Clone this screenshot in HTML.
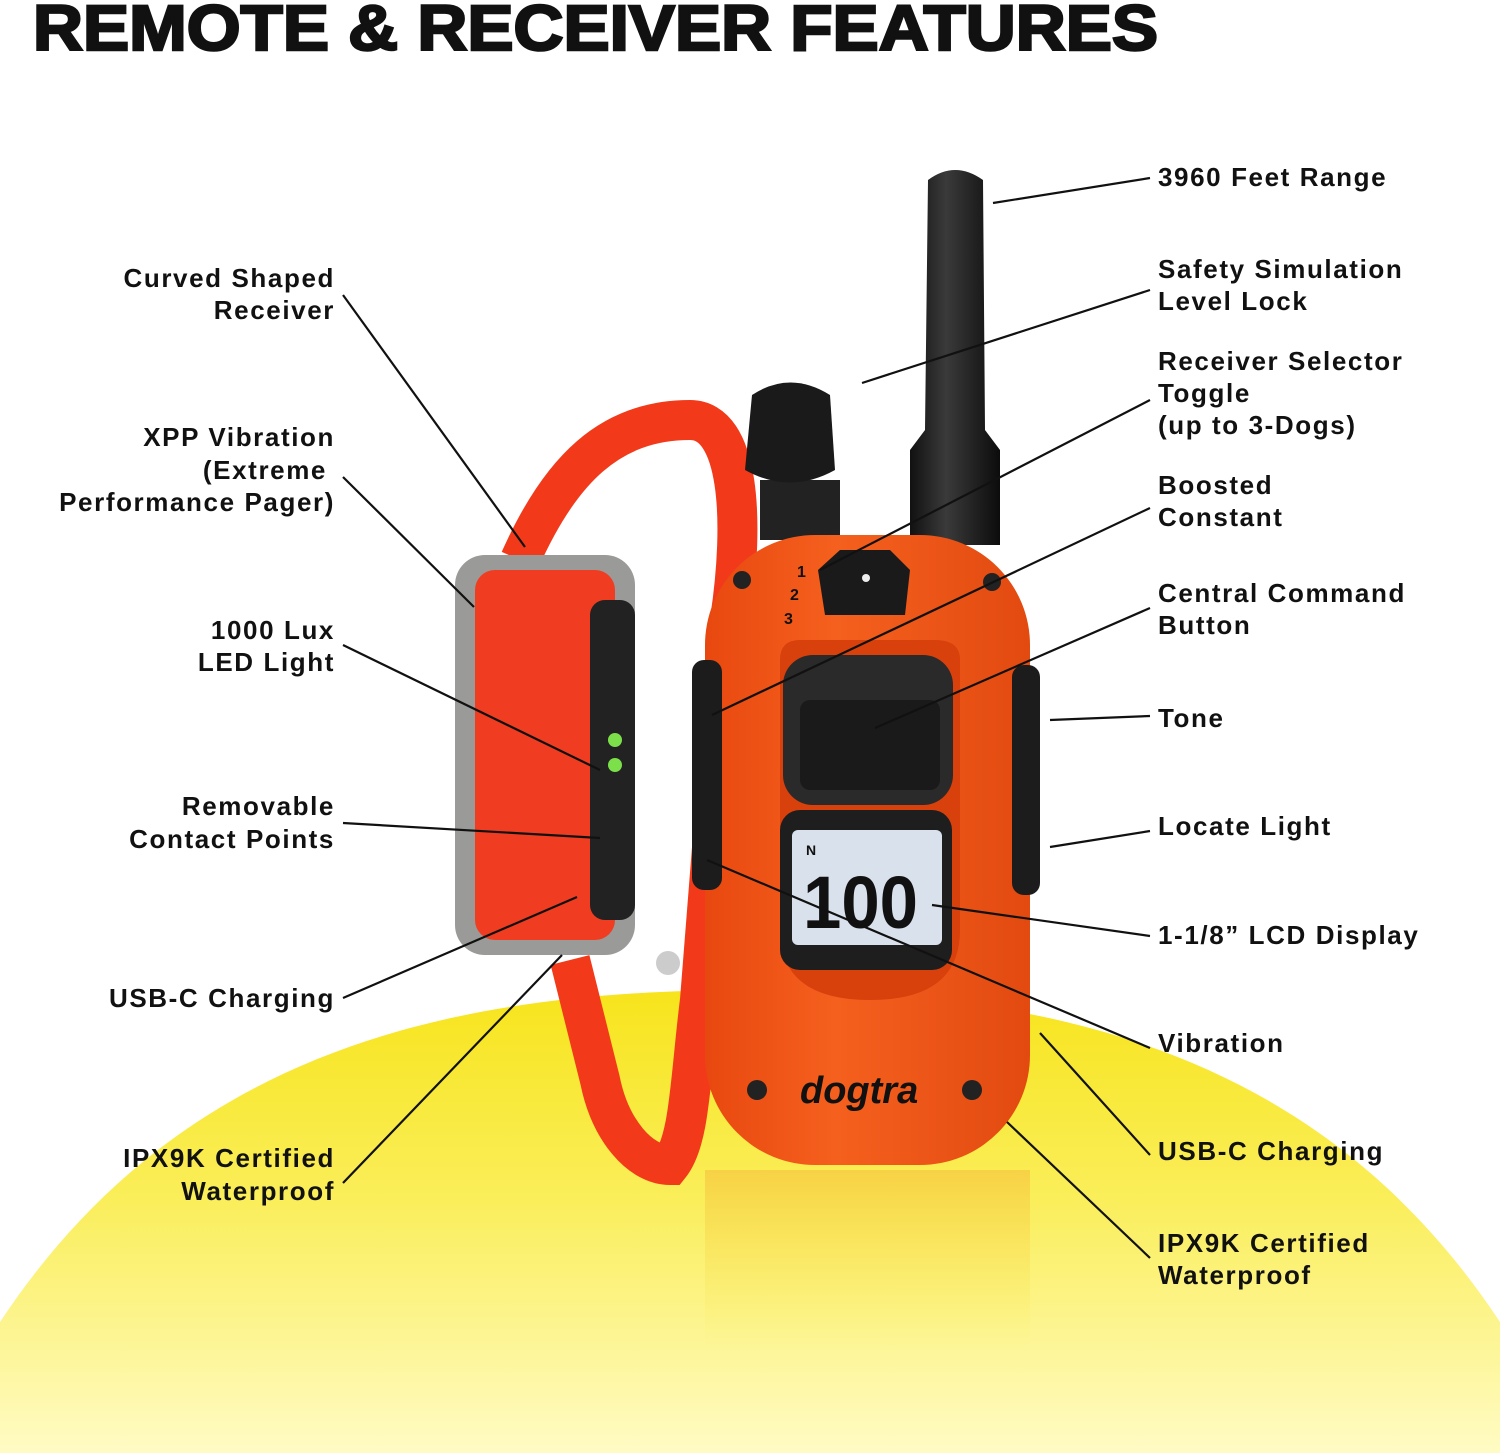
<!DOCTYPE html>
<html><head><meta charset="utf-8"><style>
html,body{margin:0;padding:0;background:#fff;}
svg{display:block}
text{font-family:"Liberation Sans",sans-serif;font-weight:bold;fill:#111;}
</style></head><body>
<svg width="1500" height="1453" viewBox="0 0 1500 1453" xmlns="http://www.w3.org/2000/svg">
<defs>
<linearGradient id="yel" x1="0" y1="0" x2="0" y2="1">
<stop offset="0" stop-color="#f7e41c"/><stop offset="0.45" stop-color="#faee5a"/><stop offset="1" stop-color="#fffbc4"/>
</linearGradient>
<linearGradient id="body" x1="0" y1="0" x2="1" y2="0">
<stop offset="0" stop-color="#e8480f"/><stop offset="0.4" stop-color="#f5601e"/><stop offset="1" stop-color="#e24a10"/>
</linearGradient>
<linearGradient id="ant" x1="0" y1="0" x2="1" y2="0">
<stop offset="0" stop-color="#111"/><stop offset="0.4" stop-color="#3a3a3a"/><stop offset="1" stop-color="#0c0c0c"/>
</linearGradient>
<linearGradient id="refl" x1="0" y1="0" x2="0" y2="1">
<stop offset="0" stop-color="#f6c640" stop-opacity="0.7"/><stop offset="1" stop-color="#faee5a" stop-opacity="0"/>
</linearGradient>
</defs>
<path d="M0,1322 C180,1050 450,990 750,990 C1050,990 1320,1050 1500,1322 L1500,1453 L0,1453 Z" fill="url(#yel)"/>
<path d="M705,1170 L1030,1170 L1030,1350 L705,1350 Z" fill="url(#refl)"/>
<text x="33" y="50" font-size="64" textLength="1125" lengthAdjust="spacingAndGlyphs" stroke="#111" stroke-width="2.5" style="font-weight:900">REMOTE &amp; RECEIVER FEATURES</text>

<!-- collar -->
<path d="M520,560 C560,470 610,420 690,420 C740,420 745,520 730,620 L700,1000 C690,1080 690,1140 670,1165 C640,1165 610,1130 600,1080 L570,960" fill="none" stroke="#f23a1a" stroke-width="40"/>
<rect x="455" y="555" width="180" height="400" rx="30" fill="#9a9a98"/>
<rect x="475" y="570" width="140" height="370" rx="20" fill="#f03c20"/>
<rect x="590" y="600" width="45" height="320" rx="15" fill="#222"/>
<circle cx="615" cy="740" r="7" fill="#7be04a"/><circle cx="615" cy="765" r="7" fill="#7be04a"/>
<circle cx="668" cy="963" r="12" fill="#ccc"/>

<!-- antenna -->
<path d="M928,180 Q955,160 983,180 L985,430 L1000,450 L1000,545 L910,545 L910,450 L925,430 Z" fill="url(#ant)"/>
<!-- knob -->
<rect x="760" y="480" width="80" height="60" fill="#222"/>
<path d="M752,395 Q790,370 830,395 L835,470 Q790,495 745,470 Z" fill="#1a1a1a"/>
<!-- body -->
<rect x="705" y="535" width="325" height="630" rx="110" fill="url(#body)"/>
<rect x="692" y="660" width="30" height="230" rx="12" fill="#1c1c1c"/>
<rect x="1012" y="665" width="28" height="230" rx="12" fill="#1c1c1c"/>
<path d="M780,660 Q780,640 800,640 L935,640 Q960,640 960,660 L960,930 Q960,1000 870,1000 Q780,1000 780,930 Z" fill="#d8400c"/>
<rect x="783" y="655" width="170" height="150" rx="30" fill="#2a2a2a"/>
<rect x="800" y="700" width="140" height="90" rx="10" fill="#1a1a1a"/>
<rect x="780" y="810" width="172" height="160" rx="20" fill="#1e1e1e"/>
<rect x="792" y="830" width="150" height="115" rx="6" fill="#d9e1ec"/>
<text x="803" y="928" font-size="74" fill="#111" textLength="115" lengthAdjust="spacingAndGlyphs">100</text>
<text x="806" y="855" font-size="14">N</text>
<path d="M818,570 L840,550 L890,550 L910,570 L905,615 L825,615 Z" fill="#1a1a1a"/>
<circle cx="866" cy="578" r="4" fill="#eee"/>
<text x="797" y="577" font-size="16">1</text><text x="790" y="600" font-size="16">2</text><text x="784" y="624" font-size="16">3</text>
<circle cx="742" cy="580" r="9" fill="#222"/><circle cx="992" cy="582" r="9" fill="#222"/>
<circle cx="757" cy="1090" r="10" fill="#222"/><circle cx="972" cy="1090" r="10" fill="#222"/>
<text x="800" y="1103" font-size="38" style="font-style:italic">dogtra</text>

<g stroke="#111" stroke-width="2.2" fill="none">
<line x1="993" y1="203" x2="1150" y2="178"/>
<line x1="862" y1="383" x2="1150" y2="290"/>
<line x1="820" y1="570" x2="1150" y2="400"/>
<line x1="712" y1="715" x2="1150" y2="508"/>
<line x1="875" y1="728" x2="1150" y2="608"/>
<line x1="1050" y1="720" x2="1150" y2="716"/>
<line x1="1050" y1="847" x2="1150" y2="831"/>
<line x1="932" y1="905" x2="1150" y2="936"/>
<line x1="707" y1="860" x2="1150" y2="1048"/>
<line x1="1040" y1="1033" x2="1150" y2="1155"/>
<line x1="1007" y1="1122" x2="1150" y2="1258"/>
<line x1="343" y1="295" x2="525" y2="547"/>
<line x1="343" y1="477" x2="474" y2="607"/>
<line x1="343" y1="645" x2="600" y2="770"/>
<line x1="343" y1="823" x2="600" y2="838"/>
<line x1="343" y1="998" x2="577" y2="897"/>
<line x1="343" y1="1183" x2="562" y2="955"/>
</g>

<g font-size="26" letter-spacing="1.6">
<text x="1158" y="186">3960 Feet Range</text>
<text x="1158" y="278">Safety Simulation</text><text x="1158" y="310">Level Lock</text>
<text x="1158" y="370">Receiver Selector</text><text x="1158" y="402">Toggle</text><text x="1158" y="434">(up to 3-Dogs)</text>
<text x="1158" y="494">Boosted</text><text x="1158" y="526">Constant</text>
<text x="1158" y="602">Central Command</text><text x="1158" y="634">Button</text>
<text x="1158" y="727">Tone</text>
<text x="1158" y="835">Locate Light</text>
<text x="1158" y="944">1-1/8” LCD Display</text>
<text x="1158" y="1052">Vibration</text>
<text x="1158" y="1160">USB-C Charging</text>
<text x="1158" y="1252">IPX9K Certified</text><text x="1158" y="1284">Waterproof</text>
</g>
<g font-size="26" letter-spacing="1.6" text-anchor="end">
<text x="335" y="287">Curved Shaped</text><text x="335" y="319">Receiver</text>
<text x="335" y="446">XPP  Vibration</text><text x="327" y="479">(Extreme</text><text x="335" y="511">Performance Pager)</text>
<text x="335" y="639">1000 Lux</text><text x="335" y="671">LED Light</text>
<text x="335" y="815">Removable</text><text x="335" y="848">Contact Points</text>
<text x="335" y="1007">USB-C Charging</text>
<text x="335" y="1167">IPX9K Certified</text><text x="335" y="1200">Waterproof</text>
</g>
</svg>
</body></html>
